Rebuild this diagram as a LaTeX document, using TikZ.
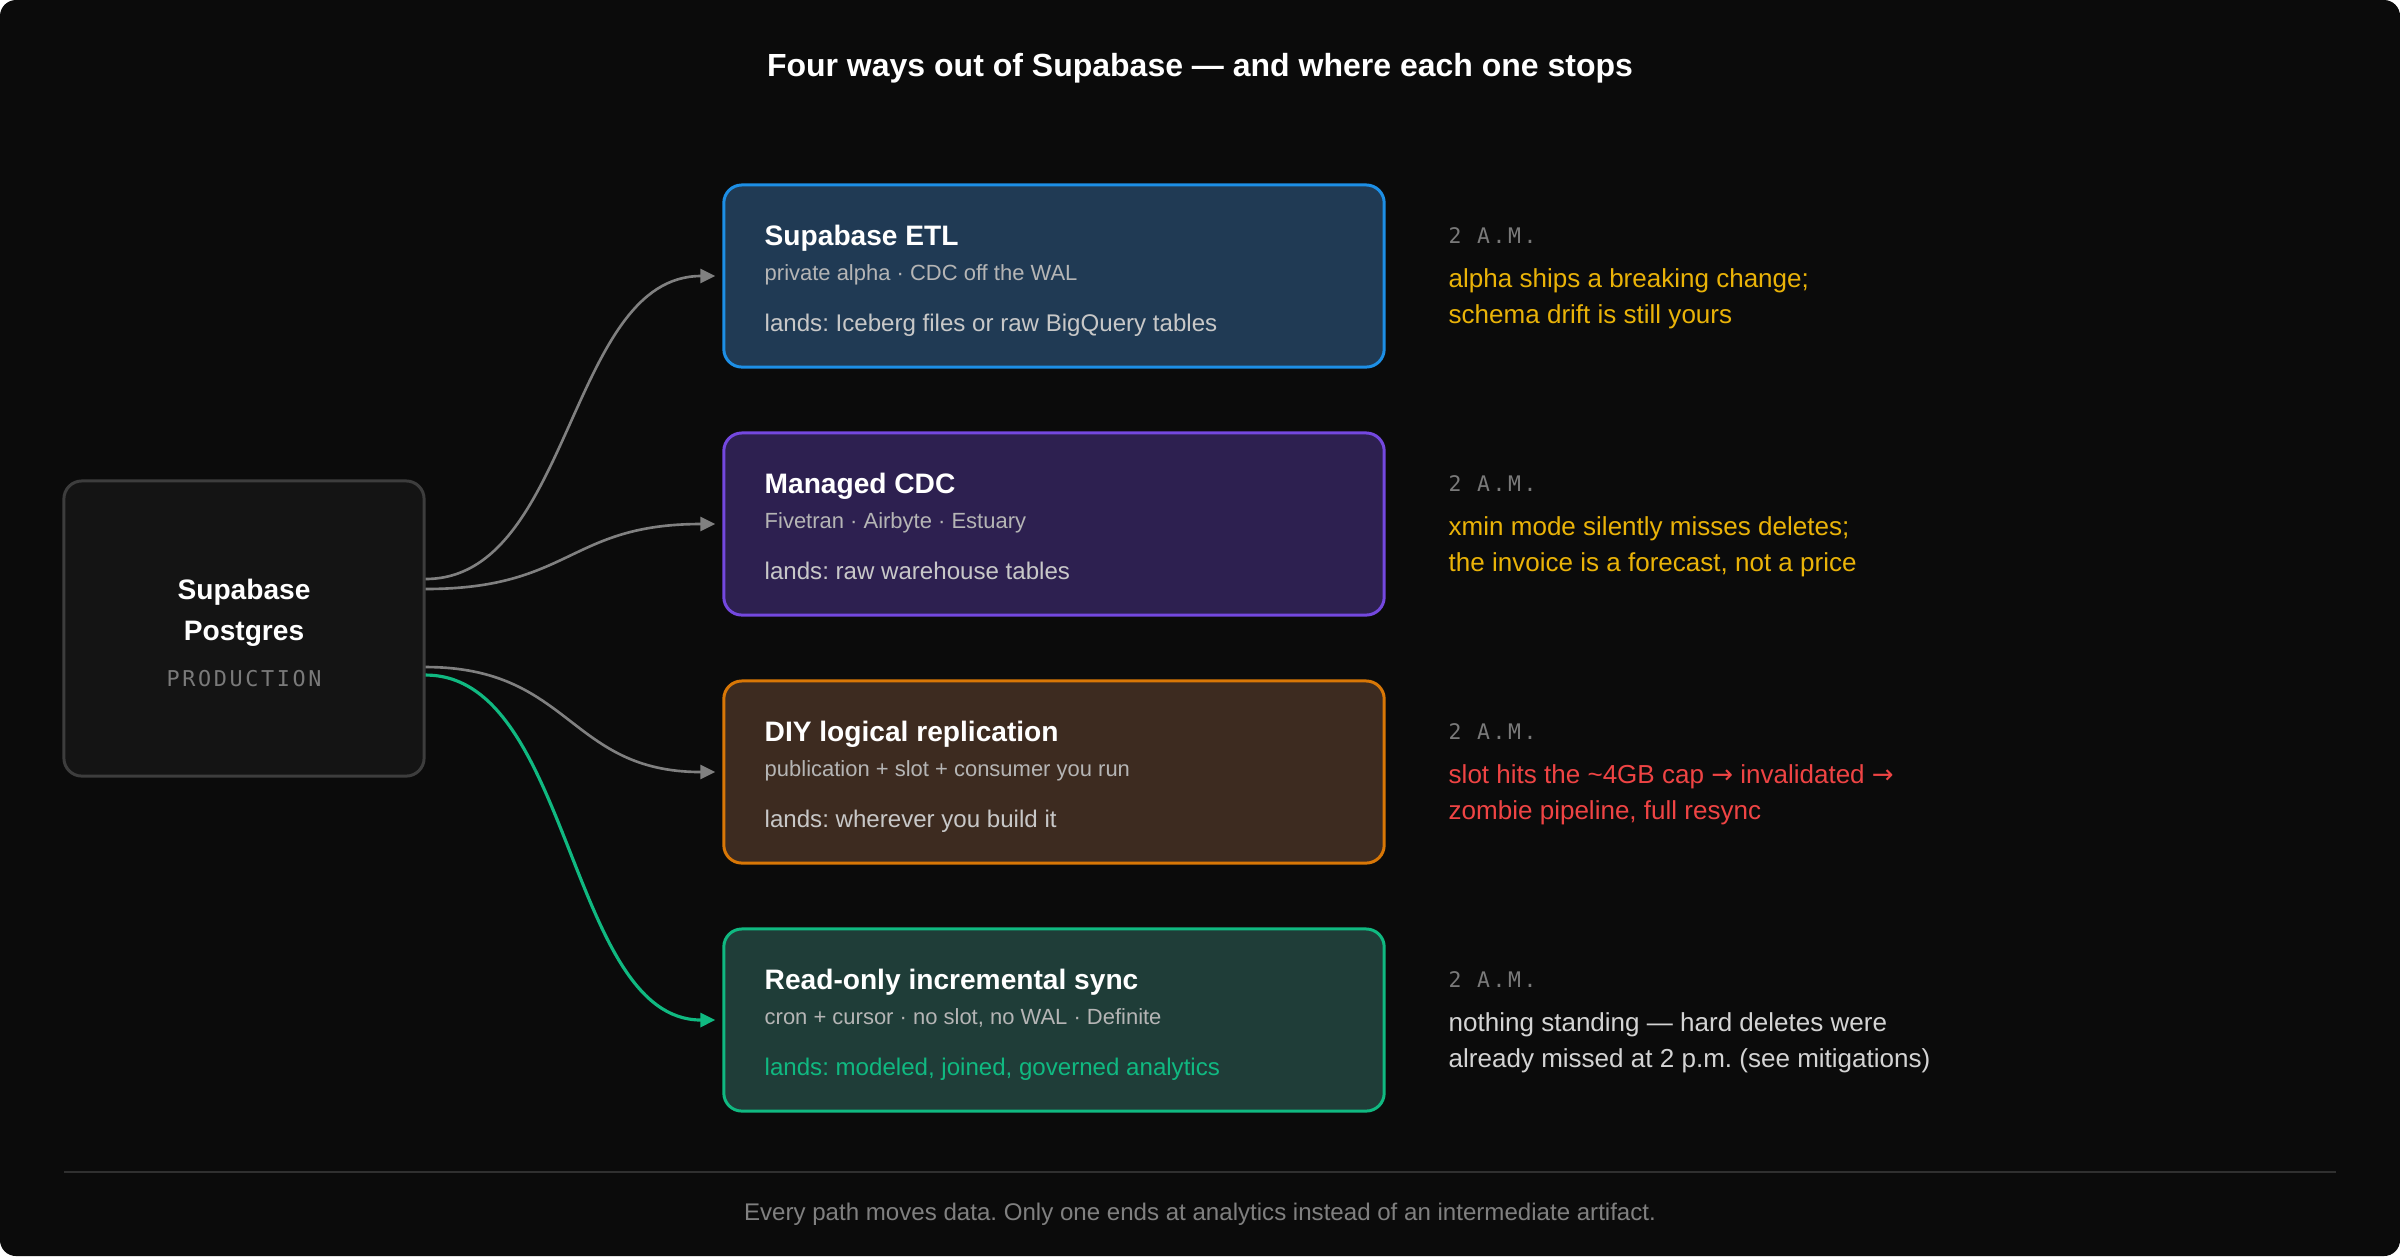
\documentclass[tikz,border=0pt]{standalone}
\usepackage{fontspec}
\setmainfont{Liberation Sans}
\newfontfamily\monofont[LetterSpace=12]{DejaVu Sans Mono}
\newfontfamily\arrowfont{DejaVu Sans}
\newcommand{\toarrow}{{\arrowfont →}}
\usetikzlibrary{arrows.meta}
\definecolor{pageBg}{HTML}{0B0B0B}
\definecolor{srcFill}{HTML}{141414}
\definecolor{srcEdge}{HTML}{3D3D3D}
\definecolor{etlBlue}{HTML}{1D8FE6}
\definecolor{etlFill}{HTML}{203A54}
\definecolor{cdcViolet}{HTML}{7448E0}
\definecolor{cdcFill}{HTML}{2D2050}
\definecolor{diyOrange}{HTML}{D97706}
\definecolor{diyFill}{HTML}{3D2B20}
\definecolor{syncGreen}{HTML}{10B981}
\definecolor{syncFill}{HTML}{1F3D38}
\definecolor{warnYellow}{HTML}{EAB308}
\definecolor{failRed}{HTML}{EF4444}
\definecolor{subGray}{HTML}{B5B5B5}
\definecolor{landGray}{HTML}{C8C8C8}
\definecolor{noteGray}{HTML}{D4D4D4}
\definecolor{dimGray}{HTML}{7A7A7A}
\definecolor{flowGray}{HTML}{808080}
\tikzset{
  pathbox/.style={draw=#1, line width=0.85pt, rounded corners=0.18cm,
    minimum width=6.6cm, minimum height=1.82cm, inner sep=0pt},
  txt/.style={anchor=base west, inner sep=0pt},
  boxtitle/.style={txt, text=white, font=\fontsize{8}{10}\selectfont\bfseries},
  boxsub/.style={txt, text=subGray, font=\fontsize{6.25}{8}\selectfont},
  boxland/.style={txt, text=landGray, font=\fontsize{6.85}{9}\selectfont},
  clock/.style={txt, text=dimGray, font=\fontsize{6.1}{8}\monofont},
  note/.style={txt, font=\fontsize{7.4}{9}\selectfont},
  flow/.style={draw=flowGray, line width=0.75pt, shorten >=0.07cm,
    -{Triangle[length=0.15cm, width=0.14cm]}},
}

\begin{document}
\frenchspacing
\begin{tikzpicture}[x=0.01cm, y=-0.01cm]
  \useasboundingbox (0,0) rectangle (2400,1256);
  \fill[white] (0,0) rectangle (2400,1256);
  \fill[pageBg, rounded corners=0.16cm] (0,0) rectangle (2400,1256);

  % title
  \node[anchor=base, inner sep=0pt, text=white, font=\fontsize{9.1}{11}\selectfont\bfseries]
    (title) at (1200,76) {Four ways out of Supabase — and where each one stops};

  % source
  \node[draw=srcEdge, fill=srcFill, line width=0.85pt, rounded corners=0.18cm,
    minimum width=3.6cm, minimum height=2.95cm, inner sep=0pt] (src) at (244,628.5) {};
  \node[anchor=base, inner sep=0pt, text=white, font=\fontsize{8}{10}\selectfont\bfseries]
    (srcname) at (244,599) {Supabase};
  \node[anchor=base, inner sep=0pt, text=white, font=\fontsize{8}{10}\selectfont\bfseries]
    (srcname2) at (244,640) {Postgres};
  \node[anchor=base, inner sep=0pt, text=dimGray, font=\fontsize{6.2}{8}\monofont]
    (srcenv) at (244,686) {PRODUCTION};

  % the four paths
  \node[pathbox=etlBlue, fill=etlFill] (etl) at (1054,276) {};
  \node[boxtitle] (etlname) at (764,245) {Supabase ETL};
  \node[boxsub] (etlsub) at (764,280) {private alpha · CDC off the WAL};
  \node[boxland] (etlland) at (764,331) {lands: Iceberg files or raw BigQuery tables};

  \node[pathbox=cdcViolet, fill=cdcFill] (cdc) at (1054,524) {};
  \node[boxtitle] (cdcname) at (764,493) {Managed CDC};
  \node[boxsub] (cdcsub) at (764,528) {Fivetran · Airbyte · Estuary};
  \node[boxland] (cdcland) at (764,579) {lands: raw warehouse tables};

  \node[pathbox=diyOrange, fill=diyFill] (diy) at (1054,772) {};
  \node[boxtitle] (diyname) at (764,741) {DIY logical replication};
  \node[boxsub] (diysub) at (764,776) {publication + slot + consumer you run};
  \node[boxland] (diyland) at (764,827) {lands: wherever you build it};

  \node[pathbox=syncGreen, fill=syncFill] (sync) at (1054,1020) {};
  \node[boxtitle] (syncname) at (764,989) {Read-only incremental sync};
  \node[boxsub] (syncsub) at (764,1024) {cron + cursor · no slot, no WAL · Definite};
  \node[boxland, text=syncGreen] (syncland) at (764,1075) {lands: modeled, joined, governed analytics};

  % what breaks at 2 a.m.
  \node[clock] (etlclock) at (1448,243) {2 A.M.};
  \node[note, text=warnYellow] (etlnote) at (1448,287) {alpha ships a breaking change;};
  \node[note, text=warnYellow] (etlnote2) at (1448,323) {schema drift is still yours};

  \node[clock] (cdcclock) at (1448,491) {2 A.M.};
  \node[note, text=warnYellow] (cdcnote) at (1448,535) {xmin mode silently misses deletes;};
  \node[note, text=warnYellow] (cdcnote2) at (1448,571) {the invoice is a forecast, not a price};

  \node[clock] (diyclock) at (1448,739) {2 A.M.};
  \node[note, text=failRed] (diynote) at (1448,783) {slot hits the \textasciitilde 4GB cap \toarrow\ invalidated \toarrow};
  \node[note, text=failRed] (diynote2) at (1448,819) {zombie pipeline, full resync};

  \node[clock] (syncclock) at (1448,987) {2 A.M.};
  \node[note, text=noteGray] (syncnote) at (1448,1031) {nothing standing — hard deletes were};
  \node[note, text=noteGray] (syncnote2) at (1448,1067) {already missed at 2 p.m. (see mitigations)};

  % connectors
  \coordinate (o1) at ([yshift=0.495cm]src.east);
  \coordinate (o2) at ([yshift=0.395cm]src.east);
  \coordinate (o3) at ([yshift=-0.385cm]src.east);
  \coordinate (o4) at ([yshift=-0.465cm]src.east);
  \draw[flow] (o1) .. controls +(146,0) and +(-154,0) .. (etl.west);
  \draw[flow] (o2) .. controls +(146,0) and +(-154,0) .. (cdc.west);
  \draw[flow] (o3) .. controls +(146,0) and +(-154,0) .. (diy.west);
  \draw[flow, draw=syncGreen, line width=0.9pt] (o4) .. controls +(146,0) and +(-154,0) .. (sync.west);

  % footer
  \draw[draw=white!15!pageBg, line width=0.5pt] (64,1172) -- (2336,1172);
  \node[anchor=base, inner sep=0pt, text=flowGray, font=\fontsize{6.85}{9}\selectfont]
    (footer) at (1200,1220) {Every path moves data. Only one ends at analytics instead of an intermediate artifact.};
\end{tikzpicture}
\end{document}
